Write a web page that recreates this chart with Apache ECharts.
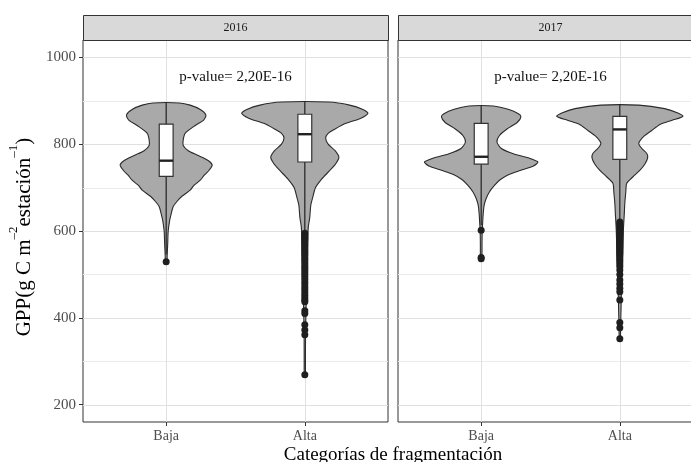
<!DOCTYPE html>
<html><head><meta charset="utf-8">
<script src="https://cdn.jsdelivr.net/npm/echarts@6/dist/echarts.min.js"></script>
<style>html,body{margin:0;padding:0;background:#fff}#c{width:691px;height:462px}</style>
</head><body><div id="c"></div>
<script>
// ---------------- data ----------------
const years = ['2016', '2017'];
const categories = ['Baja', 'Alta'];
const yTicks = [200, 400, 600, 800, 1000];
const yMinorTicks = [300, 500, 700, 900];
const pValueText = 'p-value= 2,20E-16';

// violin outlines: [GPP value, relative half-width (widest violin = 1)]
const violin2016Baja = [[895,0.21],[890,0.38],[880,0.54],[867,0.63],[855,0.59],[843,0.46],[825,0.30],[810,0.27],[797,0.27],[785,0.35],[775,0.49],[762,0.67],[752,0.73],[740,0.68],[728,0.60],[717,0.54],[705,0.44],[694,0.38],[680,0.25],[668,0.17],[656,0.11],[640,0.08],[625,0.056],[600,0.032],[570,0.024],[545,0.016],[529,0.011]];
const violin2016Alta = [[897,0.38],[890,0.71],[880,0.92],[871,1.00],[860,0.89],[848,0.65],[835,0.48],[825,0.37],[814,0.33],[800,0.37],[785,0.48],[770,0.54],[755,0.49],[740,0.40],[720,0.27],[700,0.17],[680,0.13],[660,0.095],[632,0.079],[610,0.056],[590,0.048],[550,0.040],[500,0.032],[450,0.024],[400,0.016],[350,0.011],[300,0.010],[269,0.008]];
const violin2017Baja = [[888,0.19],[880,0.44],[870,0.59],[863,0.63],[850,0.57],[835,0.41],[820,0.29],[805,0.25],[790,0.32],[778,0.51],[768,0.76],[759,0.90],[750,0.83],[740,0.63],[730,0.44],[718,0.30],[705,0.21],[690,0.13],[675,0.079],[660,0.048],[640,0.032],[620,0.024],[600,0.016],[570,0.013],[536,0.010]];
const violin2017Alta = [[890,0.30],[882,0.71],[872,0.92],[864,1.00],[855,0.83],[845,0.63],[832,0.51],[818,0.38],[802,0.30],[790,0.35],[778,0.43],[768,0.44],[755,0.40],[740,0.32],[725,0.21],[710,0.11],[690,0.095],[664,0.079],[640,0.071],[620,0.063],[600,0.056],[560,0.048],[500,0.032],[450,0.024],[400,0.016],[352,0.008]];

// box statistics: [lower whisker, Q1, median, Q3, upper whisker]
const box2016Baja = [546, 726, 762, 846, 895];
const box2016Alta = [594, 759, 823, 869, 897];
const box2017Baja = [613, 754, 771, 848, 888];
const box2017Alta = [617, 765, 834, 864, 890];

// outliers
const outliers2016Baja = [529];
const outliers2016Alta = [595,591,587,583,579,575,571,567,563,559,555,551,547,543,538,534,529,524,519,514,509,504,499,494,488,482,476,470,464,458,452,446,441,437,416,410,384,372,361,269];
const outliers2017Baja = [602, 539, 536];
const outliers2017Alta = [621,617,613,609,605,601,597,593,589,585,581,577,573,569,565,561,557,553,549,545,540,535,530,524,518,510,500,487,478,468,460,441,389,377,352];

// ---------------- chart ----------------
const FONT = "'Liberation Serif','Times New Roman',serif";
const HALF_MAX = 0.455;   // half-width (x units) of the widest violin
const BOX_HALF = 0.05;

const panels = [
  { violins: [violin2016Baja, violin2016Alta], boxes: [box2016Baja, box2016Alta], outliers: [outliers2016Baja, outliers2016Alta] },
  { violins: [violin2017Baja, violin2017Alta], boxes: [box2017Baja, box2017Alta], outliers: [outliers2017Baja, outliers2017Alta] }
];

const gridDefs = [
  { left: 83, top: 40, width: 305, height: 382 },
  { left: 398, top: 40, width: 305, height: 382 }
];

const chart = echarts.init(document.getElementById('c'), null, { renderer: 'canvas' });

const grids = gridDefs.map(g => Object.assign({
  show: true, backgroundColor: '#fff', borderColor: '#333', borderWidth: 1,
  containLabel: false, outerBoundsMode: 'none'
}, g));

const catValues = categories.map((c, i) => i + 1);

const xAxes = gridDefs.map((g, i) => ({
  type: 'value', gridIndex: i, min: 0.4, max: 2.6,
  axisLine: { show: false },
  axisTick: { show: true, customValues: catValues, length: 4, lineStyle: { color: '#333', width: 1 } },
  axisLabel: { show: true, customValues: catValues, formatter: v => categories[Math.round(v) - 1] || '',
    color: '#4d4d4d', fontSize: 14, fontFamily: FONT, margin: 7 },
  splitLine: { show: false }
}));

const yAxes = gridDefs.map((g, i) => ({
  type: 'value', gridIndex: i, min: 160, max: 1040,
  axisLine: { show: false },
  axisTick: { show: i === 0, customValues: yTicks, length: 4, lineStyle: { color: '#333', width: 1 } },
  axisLabel: { show: i === 0, customValues: yTicks, formatter: v => String(v),
    color: '#4d4d4d', fontSize: 15, fontFamily: FONT, margin: 7 },
  splitLine: { show: false }
}));

const series = [];
panels.forEach((p, pi) => {
  // background grid lines
  const gridData = [];
  yTicks.forEach(v => gridData.push([0, v]));
  yMinorTicks.forEach(v => gridData.push([1, v]));
  catValues.forEach(v => gridData.push([2, v]));
  series.push({
    type: 'custom', xAxisIndex: pi, yAxisIndex: pi, silent: true, z: 1,
    data: gridData,
    renderItem: (params, api) => {
      const cs = params.coordSys;
      const kind = api.value(0), v = api.value(1);
      if (kind < 2) {
        const y = Math.round(api.coord([1, v])[1]) + 0.5;
        return { type: 'line', shape: { x1: cs.x, y1: y, x2: cs.x + cs.width, y2: y },
          style: { stroke: kind === 0 ? '#e0e0e0' : '#ebebeb', lineWidth: 1 } };
      }
      const x = Math.round(api.coord([v, 500])[0]) + 0.5;
      return { type: 'line', shape: { x1: x, y1: cs.y, x2: x, y2: cs.y + cs.height },
        style: { stroke: '#e0e0e0', lineWidth: 1 } };
    }
  });
  // violins
  series.push({
    type: 'custom', xAxisIndex: pi, yAxisIndex: pi, silent: true, z: 2,
    data: catValues.map((c, ci) => [c, ci]),
    renderItem: (params, api) => {
      const c = api.value(0), idx = api.value(1);
      const prof = p.violins[idx];
      const pts = [];
      prof.forEach(([v, w]) => pts.push(api.coord([c + w * HALF_MAX, v])));
      for (let k = prof.length - 1; k >= 0; k--) {
        const [v, w] = prof[k];
        pts.push(api.coord([c - w * HALF_MAX, v]));
      }
      return { type: 'polygon', shape: { points: pts, smooth: 0.25 },
        style: { fill: '#a9a9a9', stroke: '#2b2b2b', lineWidth: 1.1 } };
    }
  });
  // boxes
  series.push({
    type: 'custom', xAxisIndex: pi, yAxisIndex: pi, silent: true, z: 3,
    data: catValues.map((c, ci) => [c].concat(p.boxes[ci])),
    renderItem: (params, api) => {
      const c = api.value(0);
      const lo = api.coord([c, api.value(1)]);
      const q1 = api.coord([c, api.value(2)]);
      const md = api.coord([c, api.value(3)]);
      const q3 = api.coord([c, api.value(4)]);
      const hi = api.coord([c, api.value(5)]);
      const xl = api.coord([c - BOX_HALF, 0])[0];
      const xr = api.coord([c + BOX_HALF, 0])[0];
      return { type: 'group', children: [
        { type: 'line', shape: { x1: lo[0], y1: lo[1], x2: q1[0], y2: q1[1] }, style: { stroke: '#222', lineWidth: 1.2 } },
        { type: 'line', shape: { x1: q3[0], y1: q3[1], x2: hi[0], y2: hi[1] }, style: { stroke: '#222', lineWidth: 1.2 } },
        { type: 'rect', shape: { x: xl, y: q3[1], width: xr - xl, height: q1[1] - q3[1] }, style: { fill: '#fff', stroke: '#333', lineWidth: 1.2 } },
        { type: 'line', shape: { x1: xl, y1: md[1], x2: xr, y2: md[1] }, style: { stroke: '#222', lineWidth: 2.4 } }
      ] };
    }
  });
  // outliers
  const outData = [];
  p.outliers.forEach((arr, ci) => arr.forEach(v => outData.push([catValues[ci], v])));
  series.push({
    type: 'scatter', xAxisIndex: pi, yAxisIndex: pi, silent: true, z: 4,
    symbol: 'circle', symbolSize: 7,
    itemStyle: { color: '#1f1f1f', opacity: 1, borderWidth: 0 },
    data: outData
  });
  // p-value annotation
  series.push({
    type: 'custom', xAxisIndex: pi, yAxisIndex: pi, silent: true, z: 5,
    data: [[1.5, 954]],
    renderItem: (params, api) => {
      const pt = api.coord([api.value(0), api.value(1)]);
      return { type: 'text', x: pt[0], y: pt[1],
        style: { text: pValueText, fill: '#111', font: '15px ' + FONT, align: 'center', verticalAlign: 'middle' } };
    }
  });
});

const graphic = [];
gridDefs.forEach((g, i) => {
  graphic.push({ type: 'rect', shape: { x: g.left + 0.5, y: 15.5, width: g.width, height: 25 },
    style: { fill: '#d9d9d9', stroke: '#333', lineWidth: 1 }, silent: true, z: 10 });
  graphic.push({ type: 'text', x: g.left + g.width / 2, y: 28, silent: true, z: 11,
    style: { text: years[i], fill: '#1a1a1a', font: '12px ' + FONT, align: 'center', verticalAlign: 'middle' } });
});
graphic.push({ type: 'text', x: 21, y: 237, rotation: Math.PI / 2, silent: true, z: 11,
  style: {
    text: '{b|GPP(g C m}{s|–2}{b|estación}{s|–1}{b|)}',
    align: 'center', verticalAlign: 'middle',
    rich: {
      b: { fontSize: 21, fontFamily: FONT, fill: '#000', color: '#000', lineHeight: 28, verticalAlign: 'bottom' },
      s: { fontSize: 13, fontFamily: FONT, fill: '#000', color: '#000', lineHeight: 15, verticalAlign: 'top' }
    }
  } });
graphic.push({ type: 'text', x: 393, y: 455, silent: true, z: 11,
  style: { text: 'Categorías de fragmentación', fill: '#000', font: '19px ' + FONT, align: 'center', verticalAlign: 'middle' } });

chart.setOption({
  animation: false,
  backgroundColor: '#fff',
  grid: grids,
  xAxis: xAxes,
  yAxis: yAxes,
  series: series,
  graphic: graphic
});
</script>
</body></html>
